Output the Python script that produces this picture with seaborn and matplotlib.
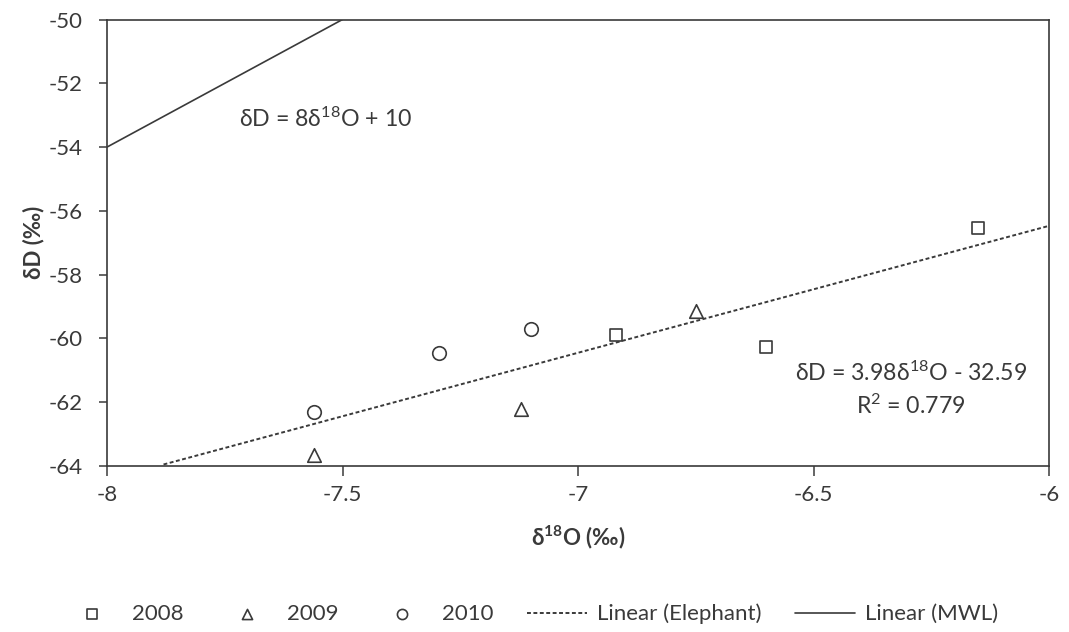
import numpy as np
import pandas as pd
import matplotlib
matplotlib.use("Agg")
import matplotlib.pyplot as plt
import seaborn as sns

# Isotope measurements (per mil)
years = ["2008", "2009", "2010"]
d18o_2008 = [-6.92, -6.60, -6.15]
dd_2008 = [-59.90, -60.27, -56.55]
d18o_2009 = [-7.56, -7.12, -6.75]
dd_2009 = [-63.65, -62.20, -59.13]
d18o_2010 = [-7.56, -7.295, -7.10]
dd_2010 = [-62.31, -60.46, -59.71]

# Regression lines: slope, intercept, x-extent
elephant_fit = (3.98, -32.59)
elephant_x = [-7.88, -6.0]
mwl_fit = (8.0, 10.0)
mwl_x = [-8.0, -7.5]

x_ticks = [-8, -7.5, -7, -6.5, -6]
y_ticks = [-64, -62, -60, -58, -56, -54, -52, -50]

sns.set_theme(style="white")
plt.rcParams["font.family"] = ["Lato", "DejaVu Sans"]
plt.rcParams["mathtext.default"] = "regular"
plt.rcParams["xtick.bottom"] = True
plt.rcParams["ytick.left"] = True

INK = "#3a3a3a"

df = pd.DataFrame({
    "d18o": d18o_2008 + d18o_2009 + d18o_2010,
    "dd": dd_2008 + dd_2009 + dd_2010,
    "year": [years[0]] * 3 + [years[1]] * 3 + [years[2]] * 3,
})

fig = plt.figure(figsize=(10.69, 6.32), dpi=100)
ax = fig.add_axes([107 / 1069, 1 - 466 / 632, 942 / 1069, 446.5 / 632])

markers = {"2008": "s", "2009": "^", "2010": "o"}
sizes = {"2008": 85, "2009": 95, "2010": 95}
for yr in years:
    sub = df[df["year"] == yr]
    sns.scatterplot(data=sub, x="d18o", y="dd", marker=markers[yr], s=sizes[yr],
                    facecolor="white", edgecolor=INK, linewidth=1.2,
                    ax=ax, label=yr, zorder=3)

ex = np.array(elephant_x)
sns.lineplot(x=ex, y=elephant_fit[0] * ex + elephant_fit[1], ax=ax,
             color=INK, linestyle=(0, (2.0, 1.3)), linewidth=1.4,
             label="Linear (Elephant)")
mx = np.array(mwl_x)
sns.lineplot(x=mx, y=mwl_fit[0] * mx + mwl_fit[1], ax=ax,
             color=INK, linewidth=1.2, label="Linear (MWL)")

ax.set_xlim(-8, -6)
ax.set_ylim(-64, -50)
ax.set_xticks(x_ticks)
ax.set_xticklabels([f"{v:g}" for v in x_ticks])
ax.set_yticks(y_ticks)
ax.set_yticklabels([f"{v:g}" for v in y_ticks])
ax.tick_params(axis="x", bottom=True, direction="out", length=7, width=1.1,
               color=INK, labelsize=16, labelcolor=INK, pad=7)
ax.tick_params(axis="y", left=True, direction="out", length=5.5, width=1.1,
               color=INK, labelsize=16, labelcolor=INK, pad=12)
for sp in ax.spines.values():
    sp.set_color(INK)
    sp.set_linewidth(1.2)

ax.set_xlabel("δ$^{18}$O (‰)", fontsize=16, fontweight="bold", color=INK, labelpad=13)
ax.set_ylabel("δD (‰)", fontsize=16, fontweight="bold", color=INK, labelpad=3)

ax.text(-7.72, -53.1, "δD = 8δ$^{18}$O + 10", fontsize=16.7, color=INK,
        ha="left", va="center")
ax.text(-6.293, -61.6, "δD = 3.98δ$^{18}$O - 32.59\nR$^{2}$ = 0.779", fontsize=16.7,
        color=INK, ha="center", va="center", linespacing=1.4)

handles, labels = ax.get_legend_handles_labels()
ax.get_legend().remove()
fig.legend(handles, labels, loc="center", bbox_to_anchor=(530 / 1069, 1 - 614 / 632),
           ncol=5, frameon=False, fontsize=16, columnspacing=1.5,
           handlelength=2.7, handletextpad=0.45, labelcolor=INK,
           markerscale=0.75)

fig.savefig("out.png", dpi=100, facecolor="white")
